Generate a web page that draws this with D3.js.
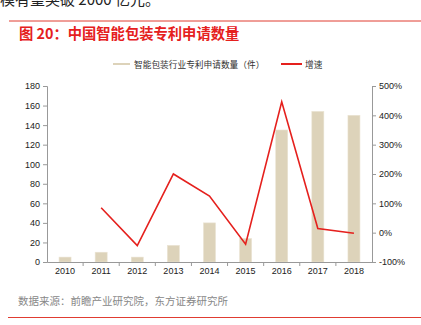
<!DOCTYPE html>
<html><head><meta charset="utf-8">
<script src="https://cdn.jsdelivr.net/npm/d3@7/dist/d3.min.js"></script>
<style>body{margin:0;background:#fff}svg{display:block}</style>
</head><body>
<svg id="c" width="421" height="325"></svg>
<script>
const years = ["2010","2011","2012","2013","2014","2015","2016","2017","2018"];
const patents = [5, 10, 5, 17, 40, 24, 135, 154, 150];
const growth = [null, 85, -44, 200, 125, -39, 446, 14, -2];
const leftTicks = [0,20,40,60,80,100,120,140,160,180];
const rightTicks = [-100,0,100,200,300,400,500];
const seriesNames = ["智能包装行业专利申请数量（件）","增速"];

const font = "'Noto Sans CJK SC','Noto Sans',sans-serif";
const svg = d3.select("#c").style("font-family", font);
const barColor = "#DDD3BA", lineColor = "#E5201D", axisColor = "#999";

// top text, partly above the page edge as in the reference
svg.append("text").attr("x",0).attr("y",5).attr("font-size",15).attr("fill","#222").text("模有望突破 2000 亿元。");
// header rule
svg.append("line").attr("x1",9).attr("x2",421).attr("y1",21).attr("y2",21).attr("stroke","#E03C31").attr("stroke-width",1);
svg.append("text").attr("x",19).attr("y",39).attr("font-size",14.3).attr("font-weight","bold").attr("fill","#E5201D").text("图 20：中国智能包装专利申请数量");

const L = 47, R = 372, T = 86, B = 262;
const x = d3.scaleBand().domain(years).range([L,R]);
const yL = d3.scaleLinear().domain([0,180]).range([B,T]);
const yR = d3.scaleLinear().domain([-100,500]).range([B,T]);

// bars
svg.append("g").selectAll("rect").data(patents).join("rect")
  .attr("x",(d,i)=>x(years[i]) + x.bandwidth()/2 - 6)
  .attr("width",12)
  .attr("y",d=>yL(d)).attr("height",d=>B-yL(d))
  .attr("fill",barColor).attr("stroke","#EAE3D2").attr("stroke-width",0.6);

// axes
const gl = svg.append("g").attr("transform",`translate(${L},0)`)
  .call(d3.axisLeft(yL).tickValues(leftTicks).tickSize(4).tickPadding(3));
const gr = svg.append("g").attr("transform",`translate(${R},0)`)
  .call(d3.axisRight(yR).tickValues(rightTicks).tickSize(4).tickPadding(3).tickFormat(d=>d+"%"));
const gx = svg.append("g").attr("transform",`translate(0,${B})`)
  .call(d3.axisBottom(x).tickSize(0).tickPadding(6));
// x ticks between bands
svg.append("g").selectAll("line").data(years.slice(1)).join("line")
  .attr("x1",d=>x(d)).attr("x2",d=>x(d)).attr("y1",B).attr("y2",B+4).attr("stroke",axisColor);
[gl,gr,gx].forEach(g=>{
  g.selectAll(".domain").attr("stroke",axisColor);
  g.selectAll(".tick line").attr("stroke",axisColor);
  g.selectAll("text").attr("font-size",9).attr("fill","#222").attr("font-family","'Liberation Sans',Arial,sans-serif");
});

// growth line
const line = d3.line().defined(d=>d!=null)
  .x((d,i)=>x(years[i])+x.bandwidth()/2).y(d=>yR(d));
svg.append("path").datum(growth).attr("d",line).attr("fill","none")
  .attr("stroke",lineColor).attr("stroke-width",1.6).attr("stroke-linejoin","miter");

// legend
const lg = svg.append("g").attr("font-size",8.7).attr("fill","#333");
lg.append("line").attr("x1",113).attr("x2",130).attr("y1",64).attr("y2",64).attr("stroke",barColor).attr("stroke-width",2);
lg.append("text").attr("x",134).attr("y",67.5).text(seriesNames[0]);
lg.append("line").attr("x1",281).attr("x2",302).attr("y1",64).attr("y2",64).attr("stroke",lineColor).attr("stroke-width",2);
lg.append("text").attr("x",305).attr("y",67.5).text(seriesNames[1]);

// source
svg.append("text").attr("x",18).attr("y",305).attr("font-size",10.5).attr("fill","#888").text("数据来源：前瞻产业研究院，东方证券研究所");
svg.append("line").attr("x1",8).attr("x2",421).attr("y1",317.5).attr("y2",317.5).attr("stroke","#E03C31").attr("stroke-width",1);
</script>
</body></html>
